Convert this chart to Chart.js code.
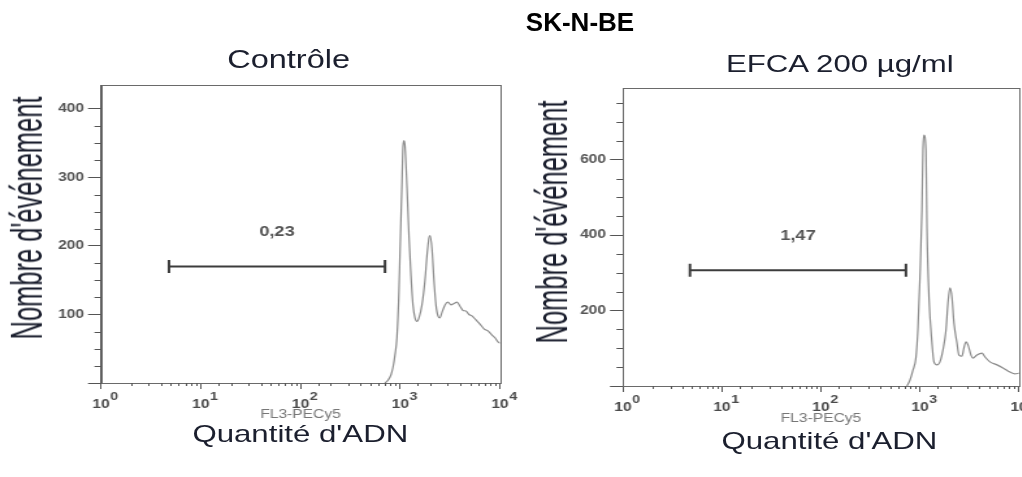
<!DOCTYPE html>
<html>
<head>
<meta charset="utf-8">
<script src="https://cdn.jsdelivr.net/npm/chart.js@4.4.0/dist/chart.umd.min.js"></script>
<style>
html, body { margin: 0; padding: 0; background: #fff; width: 1022px; height: 477px; overflow: hidden; }
/* the source figure is stretched sideways, so the stage is drawn narrow and widened */
#stage { position: absolute; left: 0; top: 0; width: 786px; height: 477px; transform: scaleX(1.3); transform-origin: 0 0; }
.box { position: absolute; top: 0; height: 477px; }
#leftBox { left: 0; width: 420px; }
#rightBox { left: 393px; width: 440px; }
.txt { position: absolute; white-space: nowrap; font-family: "Liberation Sans", Arial, sans-serif; color: #1b1f2e; transform: translate(-50%, -50%); }
.ytitle { transform: translate(-50%, -50%) rotate(-90deg) scaleY(1.35); }
</style>
</head>
<body>
<div id="stage">
  <div class="box" id="leftBox"><canvas id="ctrlChart"></canvas></div>
  <div class="box" id="rightBox"><canvas id="efcaChart"></canvas></div>

  <div class="txt" style="left:222px; top:59px; font-size:25px;">Contrôle</div>
  <div class="txt" style="left:646px; top:64px; font-size:24px;">EFCA 200 µg/ml</div>
  <div class="txt ytitle" style="left:21px; top:218px; font-size:25.5px;">Nombre d'événement</div>
  <div class="txt ytitle" style="left:425px; top:222px; font-size:25.5px;">Nombre d'événement</div>
  <div class="txt" style="left:231px; top:434px; font-size:24px;">Quantité d'ADN</div>
  <div class="txt" style="left:638px; top:441px; font-size:24px;">Quantité d'ADN</div>
</div>
<div class="txt" style="left:580px; top:22px; font-size:26px; font-weight:bold; color:#000;">SK-N-BE</div>

<script>
// Contrôle histogram (FL3 channel, events)
const ctrlChannel = [703, 754, 808, 846, 886, 927, 971, 994, 1042, 1066, 1091, 1116, 1169, 1223, 1281, 1341, 1405, 1471, 1541, 1651,
    1770, 1854, 1941, 1987, 2080, 2178, 2281, 2388, 2503, 2621, 2809, 3010, 3228, 3459, 3707, 3972, 4256, 4560, 4887, 5236,
    5741, 6295, 6912, 7580, 8318, 8913, 9550, 10000];
const ctrlCount = [0, 4, 12, 23, 41, 67, 135, 190, 295, 346, 354, 346, 285, 215, 157, 114, 95, 90, 95, 114,
    150, 186, 212, 215, 196, 150, 114, 98, 95, 103, 114, 118, 114, 116, 118, 112, 106, 105, 100, 98,
    92, 86, 79, 76, 70, 66, 60, 58];

// EFCA 200 µg/ml histogram
const efcaChannel = [739, 793, 850, 912, 955, 1000, 1047, 1072, 1097, 1150, 1177, 1233, 1322, 1384, 1485, 1591, 1706, 1831, 1918, 2010,
    2104, 2205, 2364, 2477, 2655, 2781, 2917, 3055, 3275, 3430, 3764, 4227, 4536, 5091, 5998, 6891, 8107, 9117, 10000];
const efcaCount = [0, 16, 42, 77, 156, 289, 466, 625, 665, 625, 421, 236, 114, 64, 56, 64, 95, 148, 220, 260,
    236, 167, 114, 82, 79, 101, 117, 109, 82, 74, 82, 87, 77, 64, 56, 48, 37, 32, 34];

// sub-G1 gates (marker ends on FL3, height in events) and their %
const ctrlGate = [4.8, 703];
const ctrlGateLevel = 170;
const ctrlGateValue = '0,23';
const efcaGate = [4.75, 722];
const efcaGateLevel = 307;
const efcaGateValue = '1,47';

// axes
const xRange = [1, 10000];
const ctrlYMax = 435, ctrlYStep = 25, ctrlYMajor = 100;
const efcaYMax = 790, efcaYStep = 50, efcaYMajor = 200;

const AXIS_COLOR = '#555';
const FONT = '"Liberation Sans", Arial, sans-serif';
const X_TICK_LEN = 6, X_TICK_PAD = 8;

function isDecade(v) {
    const l = Math.log10(v);
    return Math.abs(l - Math.round(l)) < 1e-9;
}

// box frame, short minor ticks, decade exponents and the gate label
const axisDecor = {
    id: 'axisDecor',
    afterDraw(chart, args, opts) {
        const { ctx, chartArea: a } = chart;
        const xs = chart.scales.x, ys = chart.scales.y;
        ctx.save();
        ctx.strokeStyle = '#6a6a6a';
        ctx.lineWidth = 1;
        ctx.strokeRect(Math.round(a.left) + 0.5, Math.round(a.top) + 0.5, Math.round(a.right - a.left), Math.round(a.bottom - a.top));

        ctx.strokeStyle = AXIS_COLOR;
        ctx.beginPath();
        xs.ticks.forEach(t => {
            if (isDecade(t.value)) return;
            const px = Math.round(xs.getPixelForValue(t.value)) + 0.5;
            ctx.moveTo(px, a.bottom);
            ctx.lineTo(px, a.bottom + 3);
        });
        ys.ticks.forEach(t => {
            if (t.value % opts.yMajor === 0) return;
            const py = Math.round(ys.getPixelForValue(t.value)) + 0.5;
            ctx.moveTo(a.left, py);
            ctx.lineTo(a.left - 5, py);
        });
        ctx.stroke();

        // exponent of each decade label, raised to the right of "10"
        ctx.fillStyle = '#4a4a4a';
        ctx.font = 'bold 12px ' + FONT;
        const baseW = ctx.measureText('10').width;
        ctx.font = 'bold 11px ' + FONT;
        ctx.textAlign = 'left';
        ctx.textBaseline = 'top';
        xs.ticks.forEach(t => {
            if (!isDecade(t.value)) return;
            const px = xs.getPixelForValue(t.value);
            ctx.fillText(String(Math.round(Math.log10(t.value))), px + baseW / 2 + 0.5, a.bottom + X_TICK_LEN + X_TICK_PAD - 6);
        });

        const pts = chart.getDatasetMeta(1).data;
        ctx.fillStyle = '#555';
        ctx.font = 'bold 14px ' + FONT;
        ctx.textAlign = 'center';
        ctx.textBaseline = 'middle';
        ctx.fillText(opts.label, (pts[0].x + pts[1].x) / 2, pts[0].y - 34);
        ctx.restore();
    }
};

function buildChart(id, channel, count, gate, gateLevel, gateValue, yMax, yStep, yMajor, pad, yWidth, xHeight) {
    const ctx = document.getElementById(id).getContext('2d');
    return new Chart(ctx, {
        type: 'line',
        data: {
            datasets: [
                {
                    data: channel.map((c, i) => ({ x: c, y: count[i] })),
                    borderColor: '#8c8c8c',
                    borderWidth: 1.2,
                    pointRadius: 0,
                    cubicInterpolationMode: 'monotone',
                    fill: false
                },
                {
                    data: gate.map(g => ({ x: g, y: gateLevel })),
                    borderColor: '#3c3c3c',
                    borderWidth: 2,
                    pointStyle: 'line',
                    rotation: 90,
                    pointRadius: 6.5,
                    pointBorderWidth: 2,
                    pointBorderColor: '#3c3c3c',
                    fill: false
                }
            ]
        },
        options: {
            responsive: true,
            maintainAspectRatio: false,
            animation: false,
            layout: { padding: pad },
            plugins: {
                legend: { display: false },
                tooltip: { enabled: false },
                axisDecor: { yMajor: yMajor, label: gateValue }
            },
            scales: {
                x: {
                    type: 'logarithmic',
                    min: xRange[0],
                    max: xRange[1],
                    afterFit: s => { s.height = xHeight; },
                    border: { color: AXIS_COLOR, width: 1 },
                    grid: {
                        drawOnChartArea: false,
                        tickLength: X_TICK_LEN,
                        tickColor: c => (c.tick && isDecade(c.tick.value)) ? AXIS_COLOR : 'rgba(0,0,0,0)'
                    },
                    ticks: {
                        autoSkip: false,
                        maxRotation: 0,
                        padding: X_TICK_PAD,
                        color: '#4a4a4a',
                        font: { family: FONT, size: 12, weight: 'bold' },
                        callback: v => isDecade(v) ? '10' : ''
                    },
                    title: {
                        display: true,
                        text: 'FL3-PECy5',
                        color: '#777',
                        font: { family: FONT, size: 12 },
                        padding: { top: 0, bottom: 0 }
                    }
                },
                y: {
                    min: 0,
                    max: yMax,
                    afterFit: s => { s.width = yWidth; },
                    afterBuildTicks: s => { s.ticks = s.ticks.filter(t => t.value % yStep === 0); },
                    border: { color: AXIS_COLOR, width: 1 },
                    grid: {
                        drawOnChartArea: false,
                        tickLength: 10,
                        tickColor: c => (c.tick && c.tick.value % yMajor === 0) ? AXIS_COLOR : 'rgba(0,0,0,0)'
                    },
                    ticks: {
                        stepSize: yStep,
                        autoSkip: false,
                        padding: 3,
                        color: '#555',
                        font: { family: FONT, size: 12, weight: 'bold' },
                        callback: v => (v !== 0 && v % yMajor === 0) ? v : ''
                    }
                }
            }
        },
        plugins: [axisDecor]
    });
}

buildChart('ctrlChart', ctrlChannel, ctrlCount, ctrlGate, ctrlGateLevel, ctrlGateValue,
    ctrlYMax, ctrlYStep, ctrlYMajor, { left: 0, top: 85, right: 35.4, bottom: 54.8 }, 77.7, 39.2);
buildChart('efcaChart', efcaChannel, efcaCount, efcaGate, efcaGateLevel, efcaGateValue,
    efcaYMax, efcaYStep, efcaYMajor, { left: 0, top: 88, right: 49.2, bottom: 50.8 }, 86.2, 40.2);
</script>
</body>
</html>
